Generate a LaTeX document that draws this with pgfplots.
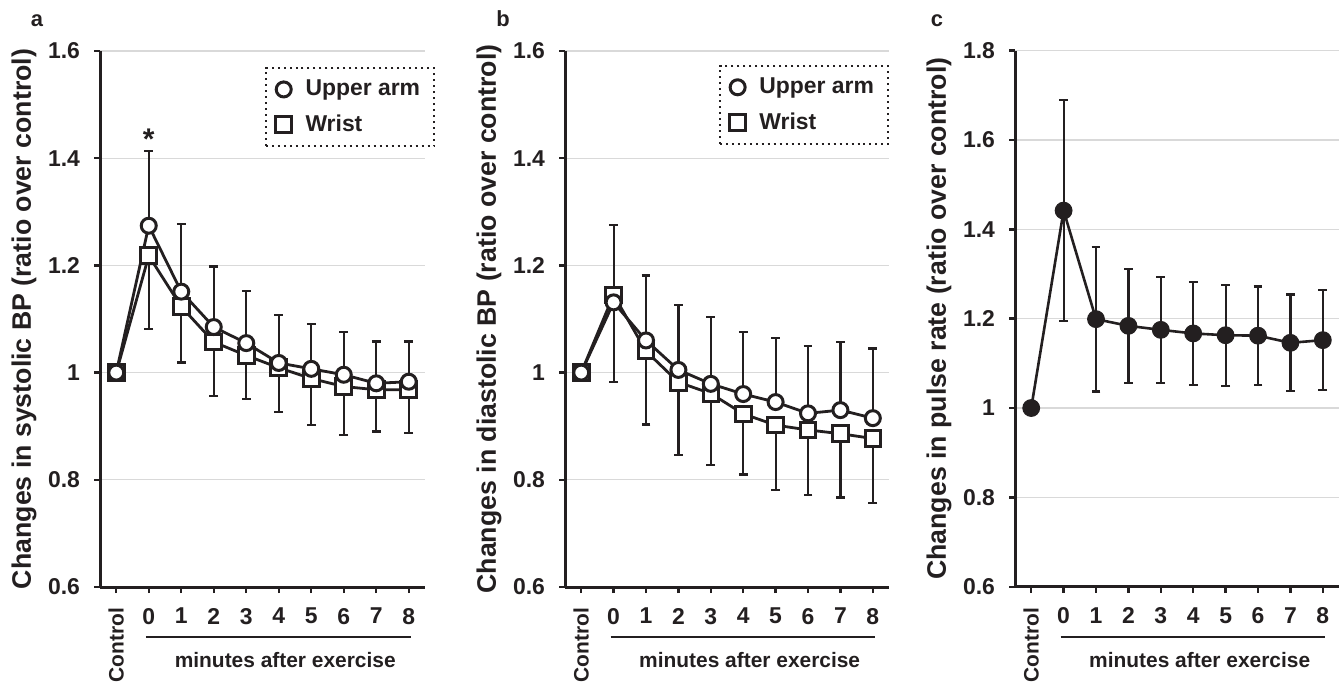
\documentclass[border=0pt]{standalone}
\usepackage{fontspec}
\setmainfont{Liberation Sans}
\usepackage{graphicx}
\usepackage{pgfplots}
\pgfplotsset{compat=1.18}
\usetikzlibrary{calc}
\definecolor{ink}{HTML}{231F20}
\definecolor{gridc}{HTML}{D9D9D9}
\pgfplotsset{
  panel/.style={
    scale only axis, width=162.5bp, height=268bp, anchor=south west,
    axis lines*=left, axis line style={line width=1.5bp, draw=ink},
    xmin=-0.5, xmax=9.5, xtick={0,...,9},
    xticklabels={{\fontsize{10.5}{12}\selectfont\rotatebox{90}{Control}},0,1,2,3,4,5,6,7,8},
    ymin=0.6, tick align=outside, major tick length=3bp,
    tick style={line width=1.2bp, draw=ink},
    ymajorgrids, major grid style={line width=0.6bp, draw=gridc},
    /pgf/number format/assume math mode=true,
    tick label style={font=\fontsize{11.5}{13}\selectfont\bfseries, text=ink},
    xticklabel style={yshift=-4bp},
    yticklabel style={xshift=-3.5bp},
    every axis y label/.style={at={(axis description cs:0,0.5)}, rotate=90,
      anchor=center, yshift=38bp, font=\fontsize{13.4}{15}\selectfont\bfseries, text=ink},
    every axis x label/.style={at={(axis description cs:0.57,0)}, anchor=center,
      yshift=-36.5bp, font=\fontsize{10.5}{12}\selectfont\bfseries, text=ink},
    xlabel={minutes after exercise},
    clip=false,
    legend style={font=\fontsize{11.5}{13}\selectfont\bfseries, text=ink, draw=ink,
      line width=1bp, dotted, anchor=north east, inner xsep=5bp, inner ysep=4bp,
      row sep=4bp, cells={anchor=west},
      /tikz/every odd column/.append style={column sep=5bp}},
    legend image code/.code={\draw[#1] plot coordinates {(0.2cm,0cm)};},
    reverse legend,
  },
  uarm/.style={ink, solid, line width=1.4bp, mark=*, mark size=3.75bp,
    mark options={line width=1.5bp, fill=white, solid},
    error bars/.cd, y dir=plus, y explicit,
    error bar style={line width=1.1bp, ink, solid},
    error mark options={rotate=90, mark size=2.2bp, line width=1.1bp, ink, solid}},
  wrist/.style={ink, solid, line width=1.4bp, mark=square*, mark size=3.9bp,
    mark options={line width=1.5bp, fill=white, solid},
    error bars/.cd, y dir=minus, y explicit,
    error bar style={line width=1.1bp, ink, solid},
    error mark options={rotate=90, mark size=2.2bp, line width=1.1bp, ink, solid}},
}
\newcommand{\decor}{%
  \draw[ink, line width=1.1bp] ($(axis cs:1,0.6)+(-1.5bp,-25bp)$) -- ($(axis cs:9,0.6)+(1bp,-25bp)$);}
\begin{document}
\begin{tikzpicture}
\useasboundingbox (0,0) rectangle (670.5bp,341.5bp);
\tikzset{letter/.style={anchor=base, text=ink, font=\fontsize{11}{13}\selectfont\bfseries}}
\node[letter] at (18.5bp,328.2bp) {a};
\node[letter] at (251.5bp,328.2bp) {b};
\node[letter] at (468.5bp,328.2bp) {c};

% a: systolic BP
\begin{axis}[panel, at={(50bp,48bp)}, ymax=1.6, ytick={0.6,0.8,1,1.2,1.4,1.6},
  ylabel={Changes in systolic BP (ratio over control)},
  legend style={at={(1.031,0.970)}}]
\addplot[wrist] coordinates {
  (0,1.000) +- (0,0) (1,1.218) +- (0,0.136) (2,1.123) +- (0,0.104)
  (3,1.057) +- (0,0.100) (4,1.032) +- (0,0.081) (5,1.009) +- (0,0.083)
  (6,0.989) +- (0,0.087) (7,0.974) +- (0,0.090) (8,0.968) +- (0,0.078)
  (9,0.968) +- (0,0.081)};
\addlegendentry{Wrist}
\addplot[uarm] coordinates {
  (0,1.000) +- (0,0) (1,1.274) +- (0,0.139) (2,1.151) +- (0,0.126)
  (3,1.085) +- (0,0.113) (4,1.055) +- (0,0.097) (5,1.018) +- (0,0.089)
  (6,1.007) +- (0,0.084) (7,0.996) +- (0,0.080) (8,0.980) +- (0,0.078)
  (9,0.983) +- (0,0.075)};
\addlegendentry{Upper arm}
\node[anchor=base, text=ink, font=\fontsize{15}{16}\selectfont\bfseries, inner sep=0pt,
  yshift=-8.5bp] at (axis cs:1,1.448) {*};
\decor
\end{axis}

% b: diastolic BP
\begin{axis}[panel, at={(282.5bp,48bp)}, width=162bp, ymax=1.6, ytick={0.6,0.8,1,1.2,1.4,1.6},
  ylabel={Changes in diastolic BP (ratio over control)},
  legend style={at={(1.0,0.974)}}]
\addplot[wrist] coordinates {
  (0,1.000) +- (0,0) (1,1.145) +- (0,0.163) (2,1.040) +- (0,0.137)
  (3,0.982) +- (0,0.136) (4,0.961) +- (0,0.133) (5,0.923) +- (0,0.113)
  (6,0.902) +- (0,0.121) (7,0.893) +- (0,0.121) (8,0.886) +- (0,0.119)
  (9,0.877) +- (0,0.121)};
\addlegendentry{Wrist}
\addplot[uarm] coordinates {
  (0,1.000) +- (0,0) (1,1.131) +- (0,0.145) (2,1.060) +- (0,0.121)
  (3,1.005) +- (0,0.121) (4,0.979) +- (0,0.124) (5,0.960) +- (0,0.115)
  (6,0.945) +- (0,0.120) (7,0.924) +- (0,0.126) (8,0.930) +- (0,0.127)
  (9,0.915) +- (0,0.130)};
\addlegendentry{Upper arm}
\decor
\end{axis}

% c: pulse rate
\begin{axis}[panel, at={(507.5bp,48.15bp)}, width=162bp, ymax=1.8,
  ytick={0.6,0.8,1,1.2,1.4,1.6,1.8},
  ylabel={Changes in pulse rate (ratio over control)}]
\addplot[ink, line width=1.3bp, mark=*, mark size=4.2bp,
  mark options={fill=ink, line width=0.5bp},
  error bars/.cd, y dir=both, y explicit,
  error bar style={line width=1.1bp, ink},
  error mark options={rotate=90, mark size=2.2bp, line width=1.1bp, ink}]
  coordinates {
  (0,1.000) +- (0,0) (1,1.442) +- (0,0.248) (2,1.199) +- (0,0.162)
  (3,1.184) +- (0,0.128) (4,1.175) +- (0,0.119) (5,1.167) +- (0,0.116)
  (6,1.163) +- (0,0.113) (7,1.162) +- (0,0.110) (8,1.146) +- (0,0.108)
  (9,1.152) +- (0,0.112)};
\decor
\end{axis}
\end{tikzpicture}
\end{document}
